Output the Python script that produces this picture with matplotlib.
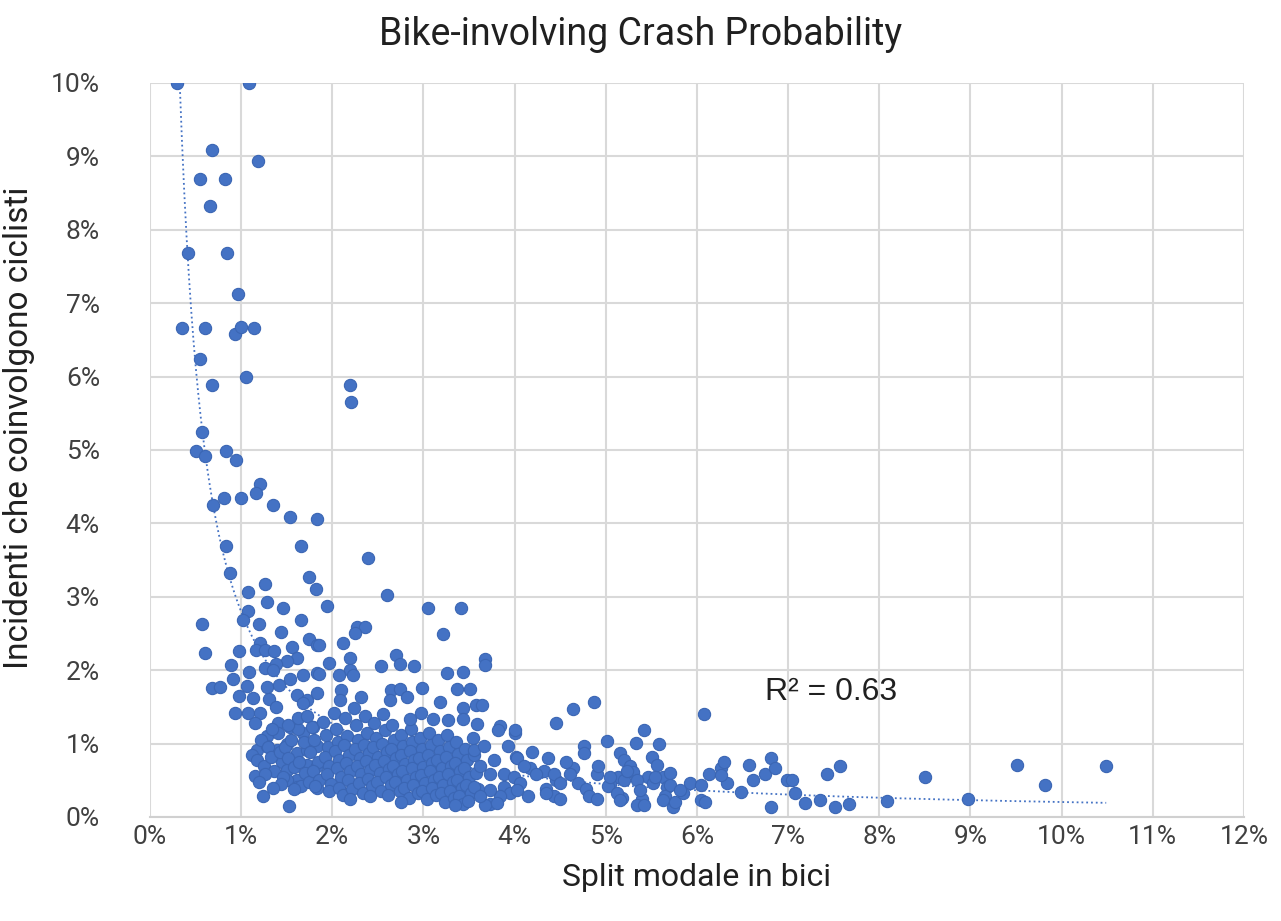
import numpy as np
import matplotlib.pyplot as plt
from matplotlib.ticker import FuncFormatter

title = 'Bike-involving Crash Probability'
x_label = 'Split modale in bici'
y_label = 'Incidenti che coinvolgono ciclisti'
r2_label = 'R² = 0.63'
x_ticks = list(range(0, 13))
y_ticks = list(range(0, 11))

# power trendline y = a * x^b as drawn on the chart (excel fit on the full data)
trend_a = 2.8
trend_b = -1.14

# (bike modal split %, bike-involving crashes %)
high_pts = [(0.30, 10.0), (1.09, 10.0), (0.68, 9.08), (1.19, 8.94), (0.55, 8.69), (0.82, 8.69),
            (0.66, 8.32), (0.42, 7.68), (0.85, 7.68), (0.97, 7.13), (0.35, 6.66), (0.60, 6.66),
            (0.93, 6.58), (1.00, 6.67), (1.14, 6.66), (0.55, 6.24), (1.05, 5.99), (0.68, 5.88),
            (2.19, 5.88), (2.21, 5.65), (0.57, 5.25), (0.51, 4.99), (0.60, 4.92), (0.83, 4.99),
            (0.94, 4.86), (1.21, 4.54), (1.16, 4.41), (0.69, 4.25), (0.81, 4.34), (1.00, 4.34),
            (1.35, 4.25), (1.54, 4.08), (1.83, 4.06), (0.83, 3.69), (1.66, 3.69), (2.39, 3.53),
            (0.88, 3.32), (1.75, 3.27), (1.26, 3.18), (1.82, 3.11), (1.08, 3.07), (2.60, 3.02),
            (1.28, 2.93), (1.46, 2.84), (1.94, 2.87), (1.08, 2.81), (3.05, 2.84), (3.41, 2.84),
            (0.57, 2.63), (1.02, 2.68), (1.20, 2.63), (1.66, 2.68), (2.27, 2.59), (2.36, 2.59)]

mid_pts = [(0.60, 2.23), (1.44, 2.52), (1.21, 2.37), (1.16, 2.28), (1.26, 2.28), (1.36, 2.26),
           (0.98, 2.26), (1.56, 2.32), (1.74, 2.43), (1.83, 2.34), (1.61, 2.16), (1.50, 2.12),
           (1.38, 2.09), (0.89, 2.07), (1.26, 2.03), (1.35, 2.00), (1.09, 1.97), (0.91, 1.88),
           (0.68, 1.75), (0.77, 1.77), (1.06, 1.78), (1.28, 1.77), (1.42, 1.80), (1.54, 1.88),
           (1.68, 1.93), (1.83, 1.96), (0.98, 1.65), (1.13, 1.62), (1.31, 1.60), (1.61, 1.66),
           (1.72, 1.59), (1.83, 1.69), (2.25, 2.50), (2.12, 2.37), (1.85, 2.34), (3.22, 2.49),
           (2.20, 2.16), (1.97, 2.10), (2.70, 2.21), (2.74, 2.09), (2.54, 2.06), (2.90, 2.06),
           (2.20, 2.00), (2.07, 1.93), (2.23, 1.93), (1.85, 1.95), (3.26, 1.96), (3.44, 1.98),
           (2.10, 1.73), (2.65, 1.73), (2.74, 1.74), (2.98, 1.75), (3.37, 1.74), (3.51, 1.74),
           (2.32, 1.64), (2.09, 1.59), (2.63, 1.59), (2.82, 1.64), (3.18, 1.57), (3.68, 2.15),
           (3.68, 2.07), (3.44, 1.48), (3.58, 1.53), (3.64, 1.53), (4.87, 1.56), (4.64, 1.47)]

low_pts = [(0.93, 1.42), (1.08, 1.42), (1.21, 1.41), (1.15, 1.28), (1.38, 1.50), (1.68, 1.55),
           (1.29, 1.10), (1.41, 1.28), (1.54, 1.23), (1.68, 1.14), (1.79, 1.23), (1.17, 0.91),
           (1.28, 0.96), (1.39, 0.91), (1.50, 1.00), (1.61, 0.87), (1.72, 0.91), (1.83, 0.96),
           (1.45, 0.75), (1.50, 0.64), (1.61, 0.50), (1.72, 0.71), (1.83, 0.69), (1.15, 0.56),
           (1.24, 0.29), (1.53, 0.15), (1.83, 0.39), (1.61, 0.41), (1.50, 0.50),
           (1.12, 0.85), (1.18, 0.78), (1.22, 1.05), (1.25, 0.70), (1.30, 0.95), (1.33, 0.82),
           (1.36, 0.62), (1.40, 1.15), (1.43, 0.88), (1.46, 0.55), (1.48, 0.95), (1.52, 0.80),
           (1.55, 1.05), (1.58, 0.68), (1.62, 1.20), (1.64, 0.75), (1.66, 0.42), (1.69, 1.02),
           (1.70, 0.60), (1.74, 0.48), (1.58, 0.38), (1.44, 0.45), (1.35, 0.40), (1.26, 0.58),
           (1.20, 0.48), (1.62, 1.35), (1.52, 1.25), (1.34, 1.20)]

core_pts = [(1.72, 1.38), (1.78, 1.22), (1.80, 1.05), (1.76, 0.88), (1.84, 0.75), (1.79, 0.62),
            (1.86, 0.50), (1.81, 0.42), (1.90, 1.30), (1.93, 1.12), (1.95, 0.95), (1.92, 0.82),
            (1.97, 0.70), (1.94, 0.58), (1.99, 0.45), (1.96, 0.35), (2.02, 1.42), (2.04, 1.20),
            (2.06, 1.02), (2.03, 0.90), (2.08, 0.78), (2.05, 0.66), (2.10, 0.55), (2.07, 0.40),
            (2.12, 0.30), (2.14, 1.35), (2.16, 1.10), (2.13, 0.98), (2.18, 0.85), (2.15, 0.74),
            (2.20, 0.62), (2.17, 0.50), (2.22, 0.38), (2.19, 0.25),
            (2.24, 1.48), (2.26, 1.25), (2.28, 1.05), (2.25, 0.92), (2.30, 0.80), (2.27, 0.70),
            (2.32, 0.58), (2.29, 0.46), (2.34, 0.33), (2.36, 1.38), (2.38, 1.15), (2.35, 0.98),
            (2.40, 0.87), (2.37, 0.76), (2.42, 0.64), (2.39, 0.52), (2.44, 0.42), (2.41, 0.28),
            (2.46, 1.28), (2.48, 1.08), (2.45, 0.95), (2.50, 0.82), (2.47, 0.71), (2.52, 0.60),
            (2.49, 0.48), (2.54, 0.36), (2.56, 1.40), (2.58, 1.18), (2.55, 1.00), (2.60, 0.88),
            (2.57, 0.76), (2.62, 0.65), (2.59, 0.54), (2.64, 0.44), (2.61, 0.30), (2.66, 1.25),
            (2.68, 1.05), (2.65, 0.92), (2.70, 0.80), (2.67, 0.69), (2.72, 0.58), (2.69, 0.47),
            (2.74, 0.35), (2.76, 1.12), (2.78, 0.96), (2.75, 0.84), (2.80, 0.72), (2.77, 0.62),
            (2.82, 0.50), (2.79, 0.40), (2.84, 0.26),
            (2.86, 1.20), (2.88, 1.02), (2.85, 0.90), (2.90, 0.78), (2.87, 0.66), (2.92, 0.55),
            (2.89, 0.44), (2.94, 0.33), (2.96, 1.08), (2.98, 0.92), (2.95, 0.80), (3.00, 0.68),
            (2.97, 0.57), (3.02, 0.46), (2.99, 0.36), (3.04, 0.24), (3.06, 1.15), (3.08, 0.98),
            (3.05, 0.85), (3.10, 0.73), (3.07, 0.62), (3.12, 0.50), (3.09, 0.40), (3.14, 0.30),
            (3.16, 1.05), (3.18, 0.90), (3.15, 0.78), (3.20, 0.66), (3.17, 0.54), (3.22, 0.43),
            (3.19, 0.32), (3.24, 0.20), (3.26, 1.12), (3.28, 0.95), (3.25, 0.82), (3.30, 0.70),
            (3.27, 0.58), (3.32, 0.47), (3.29, 0.36), (3.34, 0.26), (3.36, 1.02), (3.38, 0.86),
            (3.35, 0.74), (3.40, 0.62), (3.37, 0.50), (3.42, 0.40), (3.39, 0.29), (3.44, 0.18),
            (3.46, 0.92), (3.48, 0.78), (3.45, 0.66), (3.50, 0.54), (3.47, 0.43), (3.52, 0.33),
            (3.49, 0.22), (3.54, 1.08), (3.56, 0.84), (3.58, 0.60), (3.60, 0.38)]

right_pts = [(4.46, 1.28), (5.42, 1.19), (5.01, 1.04), (5.33, 1.01), (3.84, 1.24), (4.01, 1.15),
             (3.93, 0.97), (3.59, 1.27), (3.27, 1.32), (3.44, 1.34), (3.11, 1.34), (2.97, 1.41),
             (2.85, 1.34), (4.19, 0.88), (4.37, 0.80), (4.02, 0.82), (4.76, 0.97), (4.76, 0.87),
             (5.16, 0.87), (5.20, 0.78), (5.27, 0.70), (5.30, 0.61), (5.13, 0.54), (5.05, 0.45),
             (5.46, 0.54), (4.46, 0.50), (4.15, 0.29), (4.35, 0.38), (4.43, 0.29), (4.50, 0.25),
             (4.70, 0.46), (4.78, 0.38), (4.82, 0.29), (5.02, 0.42), (5.18, 0.26), (5.40, 0.25),
             (4.32, 0.63), (4.17, 0.67), (4.64, 0.67), (4.57, 0.75), (3.35, 0.16), (3.73, 0.17),
             (2.76, 0.21), (3.82, 1.18), (4.00, 1.18), (5.59, 1.00), (5.51, 0.82), (5.56, 0.71),
             (5.63, 0.55), (5.52, 0.46), (5.67, 0.41), (5.65, 0.28), (4.03, 0.80), (4.10, 0.69),
             (4.24, 0.59), (4.43, 0.59), (4.61, 0.59), (4.50, 0.46), (4.35, 0.32), (4.90, 0.59),
             (4.92, 0.69), (4.90, 0.25), (5.12, 0.32), (5.20, 0.50), (5.16, 0.23), (5.34, 0.50),
             (5.38, 0.37), (5.34, 0.16), (5.42, 0.16), (5.05, 0.55), (5.23, 0.62), (3.68, 0.16),
             (3.88, 0.41), (3.55, 0.41), (3.73, 0.59), (3.62, 0.69), (3.88, 0.59), (3.77, 0.78),
             (3.55, 0.91), (3.66, 0.96), (3.99, 0.55), (4.06, 0.46), (3.95, 0.32), (3.84, 0.28),
             (3.73, 0.37), (3.62, 0.28), (3.81, 0.19), (4.03, 0.37), (5.54, 0.54)]

tail_pts = [(6.08, 1.40), (5.70, 0.60), (5.70, 0.44), (5.63, 0.23), (5.74, 0.14), (5.76, 0.21),
            (5.85, 0.32), (5.93, 0.46), (5.82, 0.37), (6.04, 0.44), (6.04, 0.23), (6.09, 0.21),
            (6.13, 0.59), (6.26, 0.66), (6.30, 0.75), (6.33, 0.46), (6.27, 0.57), (6.48, 0.34),
            (6.57, 0.71), (6.62, 0.50), (6.75, 0.59), (6.81, 0.80), (6.86, 0.66), (6.81, 0.13),
            (6.99, 0.50), (7.04, 0.50), (7.08, 0.32), (7.19, 0.19), (7.35, 0.23), (7.43, 0.58),
            (7.57, 0.69), (7.51, 0.13), (7.67, 0.18), (8.09, 0.22), (8.50, 0.54), (8.97, 0.25),
            (9.51, 0.71), (9.82, 0.43), (10.49, 0.70)]

pts = np.array(high_pts + mid_pts + low_pts + core_pts + right_pts + tail_pts)
x = pts[:, 0]
y = pts[:, 1]

xt = np.linspace(x.min(), x.max(), 400)
yt = trend_a * xt ** trend_b

plt.rcParams['font.family'] = ['Roboto', 'DejaVu Sans']

fig = plt.figure(figsize=(12.81, 9.21), dpi=100)
ax = fig.add_axes([0.117, 0.113, 0.854, 0.797])

ax.scatter(x, y, s=78, color='#4472C4', edgecolor='#3B66B4', linewidth=0.8, zorder=3)
ax.plot(xt, yt, ls=':', color='#4472C4', lw=1.3, zorder=2)

ax.set_xlim(0, 12)
ax.set_ylim(0, 10)
ax.set_xticks(x_ticks)
ax.set_yticks(y_ticks)
pct = FuncFormatter(lambda v, p: '{:.0f}%'.format(v))
ax.xaxis.set_major_formatter(pct)
ax.yaxis.set_major_formatter(pct)
ax.tick_params(axis='both', length=0, labelsize=19, colors='#404040')
ax.tick_params(axis='y', pad=36)
ax.tick_params(axis='x', pad=6)
ax.grid(True, color='#D9D9D9', lw=1.5, zorder=0)
ax.set_axisbelow(True)
for s in ['top', 'right', 'left']:
    ax.spines[s].set_visible(False)
ax.spines['bottom'].set_color('#D0D0D0')
ax.spines['bottom'].set_linewidth(1.5)

fig.suptitle(title, x=0.5, y=0.962, fontsize=27, color='#202020', va='center')
ax.set_xlabel(x_label, fontsize=23, color='#202020', labelpad=10)
ax.set_ylabel(y_label, fontsize=24, color='#202020', labelpad=10)
ax.yaxis.set_label_coords(-0.105, 0.53)
ax.text(6.75, 1.70, r2_label, fontsize=23, family='Liberation Sans', color='#202020', va='center')

fig.savefig('out.png', dpi=100)
